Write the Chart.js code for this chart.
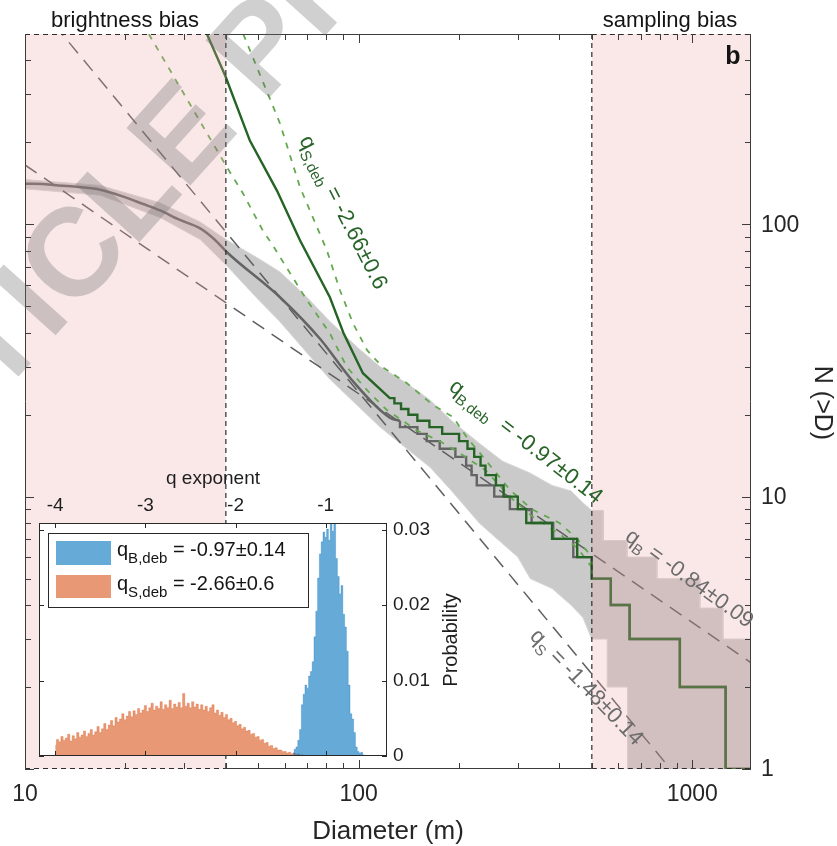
<!DOCTYPE html>
<html>
<head>
<meta charset="utf-8">
<title>Crater size-frequency distribution</title>
<script src="https://cdn.jsdelivr.net/npm/chart.js@4.4.1/dist/chart.umd.min.js"></script>
<style>
  html, body { margin: 0; padding: 0; background: #ffffff; }
  #wrap { position: relative; width: 837px; height: 846px; overflow: hidden; }
  #wrap canvas { position: absolute; left: 0; top: 0; }
</style>
</head>
<body>
<div id="wrap">
  <canvas id="sfd" width="837" height="846"></canvas>
  <canvas id="qhist" width="837" height="846"></canvas>
</div>
<script>
const FONT = '"Liberation Sans", Arial, Helvetica, sans-serif';

// ---- main axes ----
const diameterRange = [10, 1500];
const countRange = [1, 500];
const diameterMajorTicks = [10, 100, 1000];
const diameterTickLabels = ['10', '100', '1000'];
const diameterMinorTicks = [20, 30, 40, 50, 60, 70, 80, 90, 200, 300, 400, 500, 600, 700, 800, 900];
const countMajorTicks = [1, 10, 100];
const countTickLabels = ['1', '10', '100'];
const countMinorTicks = [2, 3, 4, 5, 6, 7, 8, 9, 20, 30, 40, 50, 60, 70, 80, 90, 200, 300, 400];

// diameter ranges limited by detection biases
const brightnessBiasRange = [10, 40];
const samplingBiasRange = [500, 1500];

// observed cumulative count N(>D): continuous part, then discrete steps
const observedCurveD = [10, 11.5, 12.6, 14.5, 16.8, 20, 22.5, 25.4, 29, 33.5, 37, 40.3, 58.1, 76.6, 95, 124, 133];
const observedCurveN = [141, 140.5, 139, 137, 134, 125.6, 119, 112.5, 104, 96.7, 88, 79, 54, 38, 27, 19.5, 19];
const observedStepD = [133, 150, 160, 175, 195, 210, 218, 226, 255, 284, 330, 383, 440, 500, 570, 649, 918, 1259, 1500];
const observedStepN = [18, 17, 16, 15, 14, 13, 12, 11, 10, 9, 8, 7, 6, 5, 4, 3, 2, 1, 1];

// debiased cumulative count
const debiasedCurveD = [34.6, 39.8, 47.2, 56.9, 66.7, 82, 90, 103, 124];
const debiasedCurveN = [520, 352, 203, 133, 87.4, 54, 40, 28.4, 23];
const debiasedStepD = [128, 134, 141, 150, 163, 178, 200, 212, 222, 232, 240, 258, 272, 300, 318, 380, 452, 500, 570, 649, 918, 1259, 1500];
const debiasedStepN = [22, 21, 20, 19, 18, 17, 16, 15, 14, 13, 12, 11, 10, 9, 8, 7, 6, 5, 4, 3, 2, 1, 1];

// debiased uncertainty bounds
const debiasedLowD = [23.5, 40.3, 45, 51.6, 55.3, 70, 82, 92.2, 108, 121.6, 149.6, 175, 200, 240, 284, 330, 400, 452, 500];
const debiasedLowN = [500, 162, 130, 95, 83.7, 52.6, 39.8, 29.9, 24, 20.8, 17.5, 16, 14.5, 12.5, 10, 8.5, 7.3, 6.5, 5.5];
const debiasedHighD = [45.1, 58.1, 66.7, 80.3, 87.9, 96.2, 106, 118, 139.6, 167, 192, 211, 236, 284, 330, 400, 452, 500];
const debiasedHighN = [500, 235, 137, 80.3, 57.3, 43.3, 34.5, 29.9, 26.1, 21.7, 19.6, 16.5, 14, 10.6, 9, 8, 7, 6];

// spread of the bootstrapped counts
const bootUpperD = [10, 16.8, 25.4, 33.5, 40, 50, 58, 70, 82, 100, 116, 140, 164, 190, 230, 270, 327, 380, 433, 470, 500, 541, 541, 638, 638, 784, 784, 1054, 1054, 1236, 1236, 1500];
const bootUpperN = [146, 139, 120, 102, 88, 75, 67, 54, 44, 35, 30, 26, 22.6, 19, 15.7, 13.5, 12.2, 11, 10.5, 9.5, 8.9, 8.9, 6.9, 6.9, 6, 6, 5, 5, 3.9, 3.9, 3, 3];
const bootLowerD = [10, 16.8, 25.4, 33.5, 40, 50, 58, 82, 116, 164, 190, 230, 260, 300, 327, 380, 433, 470, 500, 556, 556, 640, 640, 1500];
const bootLowerN = [135, 128, 106, 88, 71, 53, 44, 27, 18, 12.8, 10.5, 8, 7, 6, 5, 4.6, 4, 3.6, 3, 3, 2, 2, 1, 1];

// power-law fits N = A * D^q
const fitDiameters = [10, 1500];
const qB = -0.84, qBAmplitude = 1143;
const qS = -1.48, qSAmplitude = 22050;

// ---- inset: distributions of the debiased exponents ----
const qRange = [-4.18, -0.32];
const probRange = [0, 0.0309];
const qTicks = [-4, -3, -2, -1];
const qTickLabels = ['-4', '-3', '-2', '-1'];
const probTicks = [0, 0.01, 0.02, 0.03];
const probTickLabels = ['0', '0.01', '0.02', '0.03'];

const qSBinStart = -4.0, qSBinWidth = 0.025;
const qSDebProb = [
  0.0014, 0.0022, 0.0019, 0.0026, 0.0021, 0.0024, 0.0029, 0.0020, 0.0027, 0.0023,
  0.0031, 0.0025, 0.0028, 0.0033, 0.0026, 0.0030, 0.0035, 0.0028, 0.0032, 0.0039,
  0.0031, 0.0036, 0.0043, 0.0035, 0.0041, 0.0047, 0.0040, 0.0051, 0.0045, 0.0049,
  0.0056, 0.0048, 0.0053, 0.0059, 0.0052, 0.0060, 0.0055, 0.0063, 0.0057, 0.0061,
  0.0067, 0.0059, 0.0064, 0.0070, 0.0061, 0.0066, 0.0063, 0.0072, 0.0062, 0.0068,
  0.0064, 0.0074, 0.0063, 0.0069, 0.0065, 0.0071, 0.0064, 0.0083, 0.0066, 0.0070,
  0.0064, 0.0072, 0.0065, 0.0069, 0.0062, 0.0068, 0.0061, 0.0066, 0.0059, 0.0064,
  0.0068, 0.0057, 0.0061, 0.0054, 0.0058, 0.0051, 0.0055, 0.0048, 0.0050, 0.0044,
  0.0046, 0.0040, 0.0042, 0.0036, 0.0038, 0.0033, 0.0034, 0.0029, 0.0030, 0.0025,
  0.0026, 0.0021, 0.0022, 0.0017, 0.0018, 0.0013, 0.0014, 0.0010, 0.0011, 0.0008,
  0.0008, 0.0006, 0.0006, 0.0004, 0.0005, 0.0003, 0.0004, 0.0002, 0.0003, 0.0001,
  0.0002
];
const qBBinStart = -1.36, qBBinWidth = 0.02;
const qBDebProb = [
  0.0004, 0.0009, 0.0012, 0.0021, 0.0035, 0.0068, 0.0082, 0.0094, 0.0090, 0.0106,
  0.0112, 0.0125, 0.0158, 0.0192, 0.0236, 0.0268, 0.0284, 0.0297, 0.0290, 0.0301,
  0.0286, 0.0320, 0.0298, 0.0315, 0.0262, 0.0238, 0.0215, 0.0226, 0.0188, 0.0171,
  0.0139, 0.0094, 0.0056, 0.0049, 0.0031, 0.0012, 0.0006, 0.0004, 0.0005, 0.0002
];

// ---------- helpers ----------
const pts = (xs, ys) => xs.map((x, i) => ({ x, y: ys[i] }));
function stepPts(startD, startN, stepD, stepN) {
  const out = [{ x: startD, y: startN }];
  let prev = startN;
  stepD.forEach((d, i) => {
    out.push({ x: d, y: prev });
    out.push({ x: d, y: stepN[i] });
    prev = stepN[i];
  });
  return out;
}
const last = a => a[a.length - 1];
const fitPts = (amp, q) => fitDiameters.map(d => ({ x: d, y: amp * Math.pow(d, q) }));
const binPts = (start, width, vals) => vals.map((v, i) => ({ x: start + i * width, y: v }));

function richText(ctx, parts, x, y, angle, color) {
  ctx.save();
  ctx.translate(x, y);
  ctx.rotate(angle);
  ctx.fillStyle = color;
  ctx.textAlign = 'left';
  ctx.textBaseline = 'alphabetic';
  let cx = 0;
  for (const p of parts) {
    ctx.font = `${p.bold ? 'bold ' : ''}${p.size}px ${FONT}`;
    ctx.fillText(p.t, cx, p.dy || 0);
    cx += ctx.measureText(p.t).width;
  }
  ctx.restore();
}
const deg = a => a * Math.PI / 180;

// ---------- main panel ----------
const bootPolygon = pts(bootUpperD, bootUpperN).concat(pts(bootLowerD, bootLowerN).reverse());

const sfdDecor = {
  id: 'sfdDecor',
  afterDatasetsDraw(chart) {
    const { ctx, chartArea: a, scales: { x, y } } = chart;
    ctx.save();
    // shaded bias ranges
    ctx.fillStyle = 'rgba(235,163,163,0.25)';
    [brightnessBiasRange, samplingBiasRange].forEach(r => {
      const x0 = x.getPixelForValue(r[0]), x1 = x.getPixelForValue(r[1]);
      ctx.fillRect(x0, a.top, x1 - x0, a.bottom - a.top);
    });
    // solid frame: sides full height, top/bottom between the shaded ranges
    ctx.strokeStyle = 'rgb(60,60,60)';
    ctx.lineWidth = 1;
    const xb = x.getPixelForValue(brightnessBiasRange[1]);
    const xs = x.getPixelForValue(samplingBiasRange[0]);
    ctx.beginPath();
    ctx.moveTo(a.left + 0.5, a.top); ctx.lineTo(a.left + 0.5, a.bottom);
    ctx.moveTo(a.right - 0.5, a.top); ctx.lineTo(a.right - 0.5, a.bottom);
    ctx.moveTo(xb, a.top + 0.5); ctx.lineTo(xs, a.top + 0.5);
    ctx.moveTo(xb, a.bottom - 0.5); ctx.lineTo(xs, a.bottom - 0.5);
    ctx.stroke();
    // dashed outlines of the shaded ranges
    ctx.strokeStyle = 'rgb(45,45,45)';
    ctx.lineWidth = 1.2;
    ctx.setLineDash([5, 4]);
    ctx.beginPath();
    ctx.moveTo(xb, a.top); ctx.lineTo(xb, a.bottom);
    ctx.moveTo(xs, a.top); ctx.lineTo(xs, a.bottom);
    ctx.moveTo(a.left, a.top + 0.5); ctx.lineTo(xb, a.top + 0.5);
    ctx.moveTo(a.left, a.bottom - 0.5); ctx.lineTo(xb, a.bottom - 0.5);
    ctx.moveTo(xs, a.top + 0.5); ctx.lineTo(a.right, a.top + 0.5);
    ctx.moveTo(xs, a.bottom - 0.5); ctx.lineTo(a.right, a.bottom - 0.5);
    ctx.stroke();
    ctx.setLineDash([]);
    // inward ticks on all four sides
    ctx.strokeStyle = 'rgb(60,60,60)';
    ctx.lineWidth = 1;
    ctx.beginPath();
    const xt = (v, len) => {
      const px = Math.round(x.getPixelForValue(v)) + 0.5;
      ctx.moveTo(px, a.bottom); ctx.lineTo(px, a.bottom - len);
      ctx.moveTo(px, a.top); ctx.lineTo(px, a.top + len);
    };
    const yt = (v, len) => {
      const py = Math.round(y.getPixelForValue(v)) + 0.5;
      ctx.moveTo(a.left, py); ctx.lineTo(a.left + len, py);
      ctx.moveTo(a.right, py); ctx.lineTo(a.right - len, py);
    };
    diameterMajorTicks.forEach(v => xt(v, 9));
    diameterMinorTicks.forEach(v => xt(v, 6));
    countMajorTicks.forEach(v => yt(v, 9));
    countMinorTicks.forEach(v => yt(v, 6));
    ctx.stroke();
    ctx.restore();
  },
  afterDraw(chart) {
    const { ctx, chartArea: a, scales: { x, y } } = chart;
    ctx.save();
    ctx.fillStyle = 'rgb(38,38,38)';
    // tick labels
    ctx.font = `23px ${FONT}`;
    ctx.textAlign = 'center';
    ctx.textBaseline = 'alphabetic';
    diameterMajorTicks.forEach((v, i) => ctx.fillText(diameterTickLabels[i], x.getPixelForValue(v), 801));
    ctx.textAlign = 'left';
    ctx.textBaseline = 'middle';
    countMajorTicks.forEach((v, i) => ctx.fillText(countTickLabels[i], a.right + 10, y.getPixelForValue(v) + 1));
    // axis titles
    ctx.font = `26px ${FONT}`;
    ctx.textAlign = 'center';
    ctx.textBaseline = 'alphabetic';
    ctx.fillText('Diameter (m)', 388, 839);
    ctx.save();
    ctx.translate(822, 403);
    ctx.rotate(Math.PI / 2);
    ctx.textBaseline = 'middle';
    ctx.font = `25px ${FONT}`;
    ctx.fillText('N (>D)', 0, 0);
    ctx.restore();
    // bias captions and panel letter
    ctx.fillStyle = 'rgb(20,20,20)';
    ctx.font = `22px ${FONT}`;
    ctx.textBaseline = 'alphabetic';
    ctx.fillText('brightness bias', 125, 27);
    ctx.fillText('sampling bias', 670, 27);
    ctx.font = `bold 25px ${FONT}`;
    ctx.fillText('b', 733, 64);
    // slope annotations
    const green = 'rgb(40,100,40)', grey = 'rgb(108,108,108)';
    richText(ctx, [{ t: 'q', size: 22 }, { t: 'S,deb', size: 15, dy: 6 }, { t: ' = -2.66\u00B10.6', size: 22 }], 299, 140, deg(63), green);
    richText(ctx, [{ t: 'q', size: 22 }, { t: 'B,deb', size: 15, dy: 6 }, { t: '  = -0.97\u00B10.14', size: 22 }], 448, 389, deg(38), green);
    richText(ctx, [{ t: 'q', size: 22 }, { t: 'B', size: 15, dy: 6 }, { t: ' = -0.84\u00B10.09', size: 22 }], 624, 539, deg(36), grey);
    richText(ctx, [{ t: 'q', size: 22 }, { t: 'S', size: 15, dy: 6 }, { t: ' = -1.48\u00B10.14', size: 22 }], 529, 637, deg(46), grey);
    // preview watermark
    const wm = 'ACCELERATED ARTICLE PREVIEW';
    const size = 125;
    ctx.font = `bold ${size}px ${FONT}`;
    const ang = deg(-48);
    const u = { x: Math.cos(ang), y: Math.sin(ang) };
    const up = { x: Math.sin(ang), y: -Math.cos(ang) };
    const along = ctx.measureText('ACCELERATED ARTI').width + ctx.measureText('C').width / 2;
    const rise = size * 0.36;
    const cx = 70, cy = 252;
    ctx.translate(cx - u.x * along - up.x * rise, cy - u.y * along - up.y * rise);
    ctx.rotate(ang);
    ctx.fillStyle = 'rgba(110,110,110,0.32)';
    ctx.textAlign = 'left';
    ctx.fillText(wm, 0, 0);
    ctx.restore();
  }
};

new Chart(document.getElementById('sfd'), {
  type: 'line',
  data: {
    datasets: [
      { label: 'debiased', data: pts(debiasedCurveD, debiasedCurveN).concat(stepPts(last(debiasedCurveD), last(debiasedCurveN), debiasedStepD, debiasedStepN)),
        borderColor: 'rgb(38,100,38)', borderWidth: 2.4, order: 1 },
      { label: 'debiased upper', data: pts(debiasedHighD, debiasedHighN),
        borderColor: 'rgb(100,168,80)', borderWidth: 1.8, borderDash: [6, 7], order: 2 },
      { label: 'debiased lower', data: pts(debiasedLowD, debiasedLowN),
        borderColor: 'rgb(100,168,80)', borderWidth: 1.8, borderDash: [6, 7], order: 3 },
      { label: 'observed', data: pts(observedCurveD, observedCurveN), cubicInterpolationMode: 'monotone',
        borderColor: 'rgb(100,100,100)', borderWidth: 2.5, order: 4 },
      { label: 'observed steps', data: stepPts(last(observedCurveD), last(observedCurveN), observedStepD, observedStepN),
        borderColor: 'rgb(100,100,100)', borderWidth: 2.4, order: 4 },
      { label: 'qB fit', data: fitPts(qBAmplitude, qB),
        borderColor: 'rgb(95,95,95)', borderWidth: 1.5, borderDash: [14, 9], order: 5 },
      { label: 'qS fit', data: fitPts(qSAmplitude, qS),
        borderColor: 'rgb(95,95,95)', borderWidth: 1.5, borderDash: [14, 9], order: 6 },
      { label: 'bootstrap', data: bootPolygon, fill: 'shape',
        backgroundColor: 'rgba(196,196,196,0.9)', borderColor: 'rgb(214,214,214)', borderWidth: 1, order: 7 }
    ]
  },
  options: {
    responsive: false,
    animation: false,
    devicePixelRatio: 1,
    layout: { padding: { left: 25, top: 34, right: 86, bottom: 77 } },
    scales: {
      x: { type: 'logarithmic', min: diameterRange[0], max: diameterRange[1], bounds: 'data', display: false },
      y: { type: 'logarithmic', min: countRange[0], max: countRange[1], bounds: 'data', display: false }
    },
    elements: { point: { radius: 0, hoverRadius: 0 }, line: { tension: 0 } },
    plugins: { legend: { display: false }, tooltip: { enabled: false } },
    events: []
  },
  plugins: [sfdDecor]
});

// ---------- inset histogram ----------
const insetDecor = {
  id: 'insetDecor',
  beforeDatasetsDraw(chart) {
    const { ctx, chartArea: a } = chart;
    ctx.save();
    ctx.fillStyle = '#ffffff';
    ctx.fillRect(a.left, a.top, a.right - a.left, a.bottom - a.top);
    ctx.restore();
  },
  afterDraw(chart) {
    const { ctx, chartArea: a, scales: { x, y } } = chart;
    ctx.save();
    ctx.strokeStyle = 'rgb(40,40,40)';
    ctx.lineWidth = 1;
    ctx.strokeRect(a.left + 0.5, a.top + 0.5, a.right - a.left - 1, a.bottom - a.top - 1);
    ctx.beginPath();
    qTicks.forEach(v => {
      const px = Math.round(x.getPixelForValue(v)) + 0.5;
      ctx.moveTo(px, a.top); ctx.lineTo(px, a.top + 5);
      ctx.moveTo(px, a.bottom); ctx.lineTo(px, a.bottom - 5);
    });
    probTicks.forEach(v => {
      const py = Math.round(y.getPixelForValue(v)) + 0.5;
      ctx.moveTo(a.left, py); ctx.lineTo(a.left + 5, py);
      ctx.moveTo(a.right, py); ctx.lineTo(a.right - 5, py);
    });
    ctx.stroke();
    ctx.fillStyle = 'rgb(30,30,30)';
    ctx.font = `19px ${FONT}`;
    ctx.textAlign = 'center';
    ctx.textBaseline = 'alphabetic';
    qTicks.forEach((v, i) => ctx.fillText(qTickLabels[i], x.getPixelForValue(v), 511));
    ctx.fillText('q exponent', 213, 484);
    ctx.textAlign = 'left';
    ctx.textBaseline = 'middle';
    probTicks.forEach((v, i) => ctx.fillText(probTickLabels[i], a.right + 6, y.getPixelForValue(v)));
    ctx.save();
    ctx.translate(451, 640);
    ctx.rotate(-Math.PI / 2);
    ctx.textAlign = 'center';
    ctx.font = `20px ${FONT}`;
    ctx.fillText('Probability', 0, 0);
    ctx.restore();
    // legend
    ctx.fillStyle = '#ffffff';
    ctx.fillRect(48, 533, 260, 74);
    ctx.strokeStyle = 'rgb(40,40,40)';
    ctx.strokeRect(48.5, 533.5, 260, 74);
    ctx.fillStyle = 'rgba(0,114,189,0.6)';
    ctx.fillRect(56, 541, 55, 24);
    ctx.fillStyle = 'rgba(217,83,25,0.6)';
    ctx.fillRect(56, 575, 55, 23);
    richText(ctx, [{ t: 'q', size: 20 }, { t: 'B,deb', size: 15, dy: 7 }, { t: ' = -0.97\u00B10.14', size: 20 }], 117, 556, 0, 'rgb(20,20,20)');
    richText(ctx, [{ t: 'q', size: 20 }, { t: 'S,deb', size: 15, dy: 7 }, { t: ' = -2.66\u00B10.6', size: 20 }], 117, 590, 0, 'rgb(20,20,20)');
    ctx.restore();
  }
};

new Chart(document.getElementById('qhist'), {
  type: 'line',
  data: {
    datasets: [
      { label: 'q_B,deb', data: binPts(qBBinStart, qBBinWidth, qBDebProb), stepped: 'middle', fill: 'origin',
        backgroundColor: 'rgba(0,114,189,0.6)', borderColor: 'rgba(0,114,189,0.35)', borderWidth: 0.8, order: 1 },
      { label: 'q_S,deb', data: binPts(qSBinStart, qSBinWidth, qSDebProb), stepped: 'middle', fill: 'origin',
        backgroundColor: 'rgba(217,83,25,0.6)', borderColor: 'rgba(217,83,25,0.35)', borderWidth: 0.8, order: 2 }
    ]
  },
  options: {
    responsive: false,
    animation: false,
    devicePixelRatio: 1,
    layout: { padding: { left: 39, top: 523, right: 450, bottom: 90 } },
    scales: {
      x: { type: 'linear', min: qRange[0], max: qRange[1], display: false },
      y: { type: 'linear', min: probRange[0], max: probRange[1], display: false }
    },
    elements: { point: { radius: 0, hoverRadius: 0 }, line: { tension: 0 } },
    plugins: { legend: { display: false }, tooltip: { enabled: false } },
    events: []
  },
  plugins: [insetDecor]
});
</script>
</body>
</html>
